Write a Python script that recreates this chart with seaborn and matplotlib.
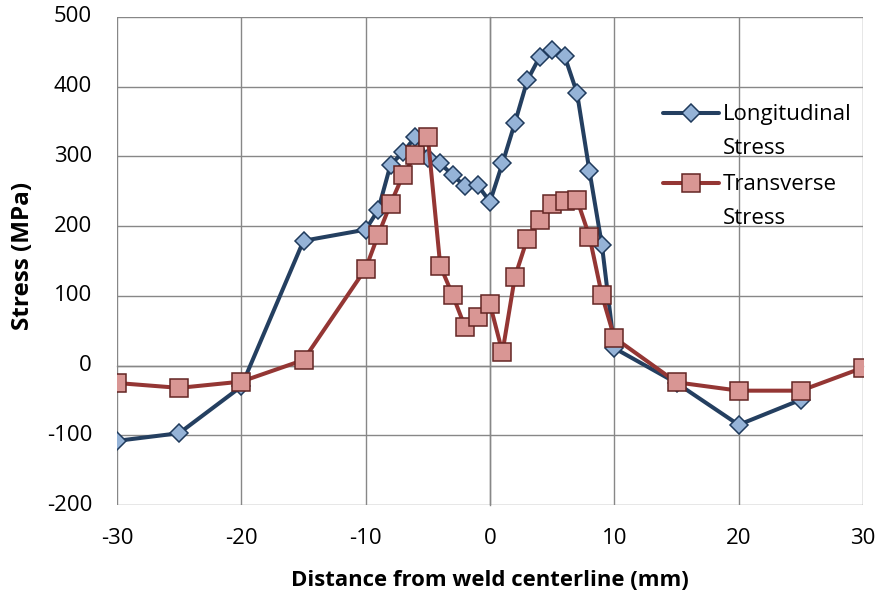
import matplotlib
matplotlib.use("Agg")
import matplotlib.pyplot as plt
import matplotlib.transforms as mtransforms
from matplotlib.ticker import MultipleLocator, NullFormatter
import seaborn as sns
import pandas as pd

# Residual stress across the weld
long_x = [-30, -25, -20, -15, -10, -9, -8, -7, -6, -5, -4, -3, -2, -1, 0,
          1, 2, 3, 4, 5, 6, 7, 8, 9, 10, 15, 20, 25]
long_stress = [-108, -97, -30, 179, 195, 223, 288, 306, 328, 298, 290, 273, 257, 259, 235,
               290, 348, 409, 443, 453, 444, 391, 279, 173, 25, -25, -85, -49]

trans_x = [-30, -25, -20, -15, -10, -9, -8, -7, -6, -5, -4, -3, -2, -1, 0,
           1, 2, 3, 4, 5, 6, 7, 8, 9, 10, 15, 20, 25, 30]
trans_stress = [-25, -32, -23, 8, 139, 187, 232, 273, 302, 328, 143, 101, 55, 69, 88,
                19, 127, 182, 209, 232, 236, 238, 185, 101, 40, -24, -36, -36, -3]

x_ticks = [-30, -20, -10, 0, 10, 20, 30]
y_ticks = [-200, -100, 0, 100, 200, 300, 400, 500]
series_names = ["Longitudinal\nStress", "Transverse\nStress"]

df = pd.concat([
    pd.DataFrame({"x": long_x, "stress": long_stress, "series": series_names[0]}),
    pd.DataFrame({"x": trans_x, "stress": trans_stress, "series": series_names[1]}),
])

sns.set_style("white")
plt.rcParams["font.family"] = ["Open Sans", "DejaVu Sans"]
plt.rcParams["axes.unicode_minus"] = False
plt.rcParams["text.color"] = "black"

DPI = 100
fig = plt.figure(figsize=(8.81, 5.97), dpi=DPI)
ax = fig.add_axes([117 / 881, 1 - 505 / 597, 746 / 881, 488 / 597])

grid_c = "#878787"
blue_line, blue_fill, blue_edge = "#243F60", "#95B3D7", "#1F3A5C"
red_line, red_fill, red_edge = "#943634", "#D99694", "#632523"
d_ms, s_ms = 9.6, 13.0

sns.lineplot(data=df, x="x", y="stress", hue="series", style="series",
             palette=[blue_line, red_line], markers=["D", "s"], dashes=False,
             sort=False, estimator=None, ax=ax, legend=False, linewidth=2.9)

# Marker styling per series
for line, fill, edge, ms in zip(ax.get_lines(), [blue_fill, red_fill],
                                [blue_edge, red_edge], [d_ms, s_ms]):
    line.set_markerfacecolor(fill)
    line.set_markeredgecolor(edge)
    line.set_markeredgewidth(1.1)
    line.set_markersize(ms)
    line.set_zorder(5)
ax.get_lines()[1].set_zorder(6)

ax.set_xlim(x_ticks[0], x_ticks[-1])
ax.set_ylim(y_ticks[0], y_ticks[-1])

# Gridlines
ax.set_xticks(x_ticks)
ax.set_yticks(y_ticks)
ax.grid(True, color=grid_c, linewidth=1.0)
ax.set_axisbelow(True)

# Axis lines through the origin with minor ticks
for side in ["top", "right"]:
    ax.spines[side].set_visible(False)
ax.spines["bottom"].set_position(("data", 0))
ax.spines["left"].set_position(("data", 0))
for side in ["bottom", "left"]:
    ax.spines[side].set_color(grid_c)
    ax.spines[side].set_linewidth(1.0)
ax.xaxis.set_minor_locator(MultipleLocator(1))
ax.yaxis.set_minor_locator(MultipleLocator(20))
ax.tick_params(which="major", length=0, labelbottom=False, labelleft=False)
ax.tick_params(which="minor", length=4.5, width=1.0, color=grid_c, direction="out")
ax.xaxis.set_minor_formatter(NullFormatter())
ax.yaxis.set_minor_formatter(NullFormatter())

# Tick labels along the outer edges of the plot area
tick_fs = 16
off_x = mtransforms.ScaledTranslation(0, -34 / DPI, fig.dpi_scale_trans)
for v in x_ticks:
    ax.text(v, 0, f"{v}", transform=ax.get_xaxis_transform() + off_x,
            ha="center", va="center", fontsize=tick_fs, color="black")
off_y = mtransforms.ScaledTranslation(-25 / DPI, 0, fig.dpi_scale_trans)
for v in y_ticks:
    ax.text(0, v, f"{v}", transform=ax.get_yaxis_transform() + off_y,
            ha="right", va="center", fontsize=tick_fs, color="black")

ax.set_xlabel("")
ax.set_ylabel("")
fig.text(490 / 881, 1 - 580 / 597, "Distance from weld centerline (mm)",
         ha="center", va="center", fontsize=15.9, fontweight="bold", color="black")
fig.text(23 / 881, 1 - 256 / 597, "Stress (MPa)", rotation=90,
         ha="center", va="center", fontsize=17.5, fontweight="bold", color="black")

# Legend
handles = [
    plt.Line2D([], [], color=blue_line, lw=2.9, marker="D", ms=d_ms,
               mfc=blue_fill, mec=blue_edge, mew=1.1),
    plt.Line2D([], [], color=red_line, lw=2.9, marker="s", ms=s_ms,
               mfc=red_fill, mec=red_edge, mew=1.1),
]
leg = ax.legend(handles, series_names, loc="upper left",
                bbox_to_anchor=((663 - 117) / 746, (505 - 104) / 488),
                frameon=False, fontsize=16, borderpad=0, borderaxespad=0,
                handlelength=2.5, handletextpad=0.18, labelspacing=0.65,
                handleheight=1.2, labelcolor="black")
for t in leg.get_texts():
    t.set_linespacing(1.83)
for col in leg._legend_handle_box.get_children():
    for item in col.get_children():
        item.align = "top"

fig.savefig("out.png", dpi=DPI)
